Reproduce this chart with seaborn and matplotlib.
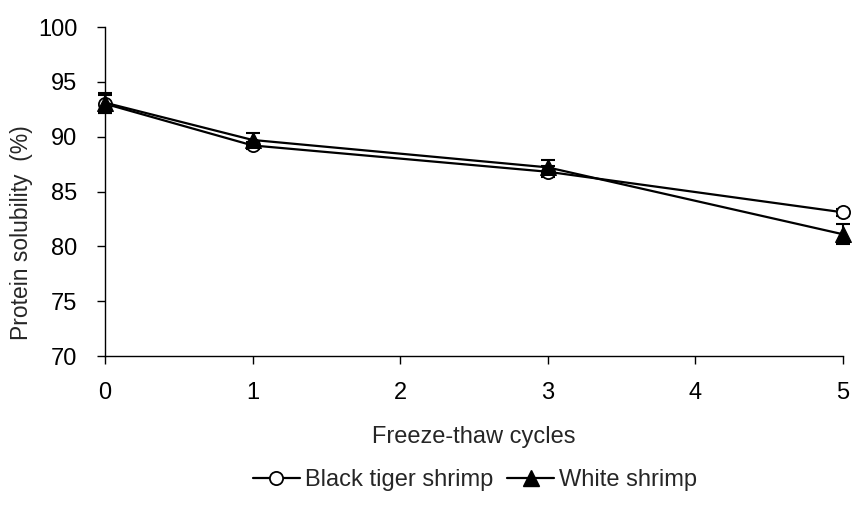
import matplotlib
matplotlib.use("Agg")
import matplotlib.pyplot as plt
import seaborn as sns
import pandas as pd
from matplotlib.lines import Line2D

cycles = [0, 1, 3, 5]
black_tiger = [93.0, 89.2, 86.8, 83.1]
black_tiger_err = [0.8, 0.3, 0.5, 0.3]
white = [93.1, 89.7, 87.2, 81.1]
white_err = [0.9, 0.6, 0.7, 0.9]

sns.set_theme(style="ticks")
plt.rcParams['font.family'] = ['Liberation Sans', 'DejaVu Sans']
FS = 17

fig = plt.figure(figsize=(8.53, 5.18), dpi=100)
ax = fig.add_axes([105/853, 1-356/518, (843-105)/853, (356-27)/518])

df = pd.DataFrame({
    "cycles": cycles * 2,
    "value": black_tiger + white,
    "series": ["Black tiger shrimp"] * 4 + ["White shrimp"] * 4,
})

for vals, errs in [(black_tiger, black_tiger_err), (white, white_err)]:
    eb = ax.errorbar(cycles, vals, yerr=errs, fmt='none', ecolor='black',
                     elinewidth=1.5, capsize=5, capthick=1.5, zorder=2)
    for art in eb.get_children():
        art.set_clip_on(False)

sns.lineplot(data=df[df.series == "Black tiger shrimp"], x="cycles", y="value", ax=ax,
             color='black', lw=1.6, marker='o', markersize=9.5, markerfacecolor='white',
             markeredgecolor='black', markeredgewidth=1.3, zorder=3, legend=False, clip_on=False)
sns.lineplot(data=df[df.series == "White shrimp"], x="cycles", y="value", ax=ax,
             color='black', lw=1.6, marker='^', markersize=11.5, markerfacecolor='black',
             markeredgecolor='black', zorder=4, legend=False, clip_on=False)

ax.set_xlim(0, 5)
ax.set_ylim(70, 100)
ax.set_xticks([0, 1, 2, 3, 4, 5])
ax.set_yticks([70, 75, 80, 85, 90, 95, 100])
ax.tick_params(axis='both', labelsize=FS, direction='out', length=6, width=1, colors='black')
ax.tick_params(axis='x', pad=13)
ax.tick_params(axis='y', pad=14)
for s in ['top', 'right']:
    ax.spines[s].set_visible(False)
for s in ['left', 'bottom']:
    ax.spines[s].set_color('black')
    ax.spines[s].set_linewidth(1)
ax.set_xlabel("Freeze-thaw cycles", fontsize=FS, va='center')
ax.xaxis.set_label_coords(0.5, -(437-356)/329)
ax.set_ylabel("Protein solubility  (%)", fontsize=16.5, va='center')
ax.yaxis.set_label_coords(-(105-22)/738, (356-233)/329)

handles = [
    Line2D([], [], color='black', lw=1.6, marker='o', markersize=9.5, markerfacecolor='white', markeredgewidth=1.3),
    Line2D([], [], color='black', lw=1.6, marker='^', markersize=11.5, markerfacecolor='black'),
]
fig.legend(handles, ["Black tiger shrimp", "White shrimp"], loc='center', ncol=2,
           bbox_to_anchor=(475/853, 1-480/518), frameon=False, fontsize=FS,
           handlelength=2.0, handletextpad=0.2, columnspacing=0.6)

fig.savefig("out.png", dpi=100)
